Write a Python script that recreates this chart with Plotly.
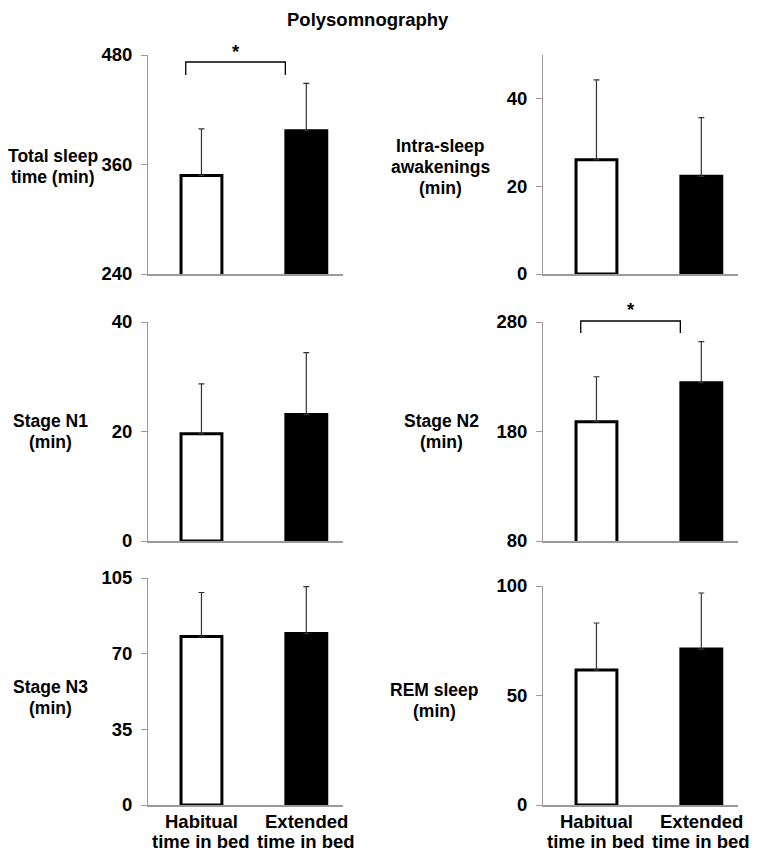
import plotly.graph_objects as go

# ---------------- data ----------------
title_text = "Polysomnography"
groups = [["Habitual", "time in bed"], ["Extended", "time in bed"]]
panel_labels = [["Total sleep", "time (min)"], ["Intra-sleep", "awakenings", "(min)"],
                ["Stage N1", "(min)"], ["Stage N2", "(min)"],
                ["Stage N3", "(min)"], ["REM sleep", "(min)"]]
habitual_mean = [348, 26.1, 19.6, 189, 77.9, 61.6]
habitual_sd = [51, 18.2, 9.1, 41, 20.4, 21.5]
extended_mean = [397, 22.3, 23.1, 224.5, 79.3, 71.2]
extended_sd = [52, 13.4, 11.3, 37.5, 21.7, 25.6]
y_ranges = [[240, 480], [0, 50], [0, 40], [80, 280], [0, 105], [0, 100]]
y_ticks = [[240, 360, 480], [0, 20, 40], [0, 20, 40], [80, 180, 280], [0, 35, 70, 105], [0, 50, 100]]
significant = [True, False, False, True, False, False]

# ---------------- layout / style ----------------
PAGE_OFF = 8                 # default page margin around the plot div
W, H = 757 - PAGE_OFF, 853 - PAGE_OFF
FONT = "Liberation Sans, Arial, sans-serif"
FS = 18.5
FS_LABEL = 17.5
AXIS_COLOR = "#9a9a9a"
LINE_GAP = 21  # px between text lines
XLABEL_GAP = 20


def fx(px):
    return (px - PAGE_OFF) / W


def fy(py):
    return 1 - (py - PAGE_OFF) / H


# target screen geometry (pixels)
col_x = [(148, 343), (543, 738)]
row_y = [[(55, 274), (55, 274)], [(322, 541), (322, 541)], [(578, 805), (586, 805)]]
label_pos = [(53, 156), (440, 146), (50, 421), (441, 421), (50, 687), (435, 690)]
xlabel_y = 821
title_y = 20
bracket_px = {0: (62, 75, 52), 3: (321, 333, 310)}
bracket_x = (-0.15, 0.8)

fig = go.Figure()
layout = dict(
    template="none",
    width=W, height=H, margin=dict(l=0, r=0, t=0, b=0, autoexpand=False),
    plot_bgcolor="white", paper_bgcolor="white", showlegend=False,
    font=dict(family=FONT, size=FS, color="black"),
)
annotations = []
shapes = []

for i in range(6):
    r, c = divmod(i, 2)
    sfx = "" if i == 0 else str(i + 1)
    xa, ya = "x" + sfx, "y" + sfx
    x0, x1 = col_x[c]
    yt, yb = row_y[r][c]

    fig.add_trace(go.Bar(
        x=[0], y=[habitual_mean[i]], width=0.39,
        marker=dict(color="white", line=dict(color="black", width=3)),
        error_y=dict(type="data", symmetric=False, array=[habitual_sd[i]], arrayminus=[0],
                     color="#333333", thickness=1.2, width=3),
        xaxis=xa, yaxis=ya,
    ))
    fig.add_trace(go.Bar(
        x=[1], y=[extended_mean[i]], width=0.39,
        marker=dict(color="black", line=dict(color="black", width=3)),
        error_y=dict(type="data", symmetric=False, array=[extended_sd[i]], arrayminus=[0],
                     color="#333333", thickness=1.2, width=3),
        xaxis=xa, yaxis=ya,
    ))

    layout["xaxis" + sfx] = dict(
        domain=[fx(x0), fx(x1)], anchor=ya, range=[-0.51, 1.35], automargin=False,
        showline=True, linecolor=AXIS_COLOR, linewidth=1.5,
        showgrid=False, zeroline=False, ticks="", showticklabels=False,
    )
    layout["yaxis" + sfx] = dict(
        domain=[fy(yb), fy(yt)], anchor=xa, range=y_ranges[i], automargin=False,
        showline=True, linecolor=AXIS_COLOR, linewidth=1,
        showgrid=False, zeroline=False,
        ticks="outside", ticklen=6, tickcolor=AXIS_COLOR, tickwidth=1,
        tickvals=y_ticks[i], ticklabelstandoff=5,
        tickfont=dict(family=FONT, size=FS, weight="bold"),
    )

    lx, ly = label_pos[i]
    for k, line in enumerate(panel_labels[i]):
        annotations.append(dict(
            text=line, xref="paper", yref="paper",
            x=fx(lx), y=fy(ly + k * LINE_GAP), xanchor="center", yanchor="middle",
            showarrow=False, font=dict(family=FONT, size=FS_LABEL, weight="bold"),
        ))

    if r == 2:
        for g, lines in enumerate(groups):
            for k, line in enumerate(lines):
                annotations.append(dict(
                    text=line, xref=xa, yref="paper",
                    x=g, y=fy(xlabel_y + k * XLABEL_GAP), xanchor="center", yanchor="middle",
                    showarrow=False, font=dict(family=FONT, size=FS, weight="bold"),
                ))

    if significant[i]:
        bt, bb, st = bracket_px[i]
        dom_h = yb - yt
        ft = 1 - (bt - yt) / dom_h
        fb = 1 - (bb - yt) / dom_h
        fs = 1 - (st - yt) / dom_h
        bx0, bx1 = bracket_x
        shapes.append(dict(
            type="path", xref=xa, yref=ya + " domain",
            path=f"M {bx0},{fb} L {bx0},{ft} L {bx1},{ft} L {bx1},{fb}",
            line=dict(color="black", width=1.3),
        ))
        annotations.append(dict(
            text="*", xref=xa, yref=ya + " domain",
            x=(bx0 + bx1) / 2, y=fs, xanchor="center", yanchor="middle",
            showarrow=False, font=dict(family=FONT, size=FS, weight="bold"),
        ))

annotations.append(dict(
    text=title_text, xref="paper", yref="paper",
    x=fx(368), y=fy(title_y), xanchor="center", yanchor="middle",
    showarrow=False, font=dict(family=FONT, size=FS, weight="bold"),
))

layout["annotations"] = annotations
layout["shapes"] = shapes
fig.update_layout(**layout)
fig.write_html("out.html")
